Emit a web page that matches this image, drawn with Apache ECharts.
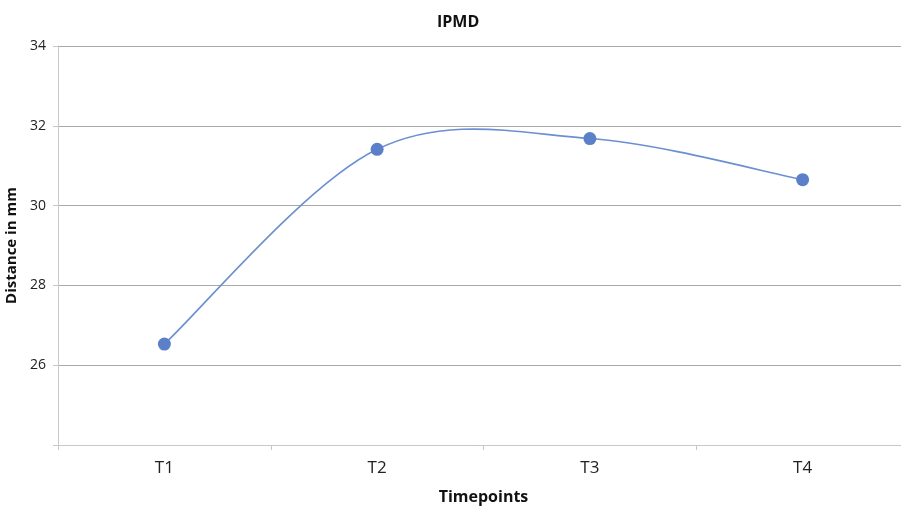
<!DOCTYPE html>
<html>
<head>
<meta charset="utf-8">
<title>IPMD</title>
<script src="https://cdn.jsdelivr.net/npm/echarts@6/dist/echarts.min.js"></script>
<style>
  html, body { margin: 0; padding: 0; background: #fff; }
  #chart { width: 901px; height: 508px; }
</style>
</head>
<body>
<div id="chart"></div>
<script>
// Timepoints on the x axis and mean IPMD distance (mm) at each
const categories = ['T1', 'T2', 'T3', 'T4'];
const distance = [26.53, 31.41, 31.68, 30.65];
const yTicks = [24, 26, 28, 30, 32, 34];

const FONT = '"Open Sans", "Noto Sans", sans-serif';
const LINE_COLOR = '#6b8fd2';

// Spreadsheet-style smoothed line: cubic Bezier segments whose control
// points follow the Catmull-Rom tangents (neighbour difference / 6).
function renderSmoothLine(params, api) {
  if (params.dataIndex !== 0) return null;
  const pts = distance.map((v, i) => api.coord([i, v]));
  const n = pts.length;
  const P = i => pts[Math.max(0, Math.min(n - 1, i))];
  let d = 'M' + pts[0][0] + ' ' + pts[0][1];
  for (let i = 0; i < n - 1; i++) {
    const p0 = P(i - 1), p1 = P(i), p2 = P(i + 1), p3 = P(i + 2);
    const c1 = [p1[0] + (p2[0] - p0[0]) / 6, p1[1] + (p2[1] - p0[1]) / 6];
    const c2 = [p2[0] - (p3[0] - p1[0]) / 6, p2[1] - (p3[1] - p1[1]) / 6];
    d += ' C' + c1[0] + ' ' + c1[1] + ' ' + c2[0] + ' ' + c2[1] + ' ' + p2[0] + ' ' + p2[1];
  }
  return {
    type: 'path',
    shape: { pathData: d },
    style: { fill: null, stroke: LINE_COLOR, lineWidth: 1.6 }
  };
}

const chart = echarts.init(document.getElementById('chart'), null, { renderer: 'canvas' });
chart.setOption({
  animation: false,
  backgroundColor: '#ffffff',
  title: {
    text: 'IPMD',
    left: 432,
    top: 9,
    textStyle: { fontFamily: FONT, fontSize: 16, fontWeight: 'bold', color: '#111' }
  },
  grid: { left: 58, right: -8, top: 46, bottom: 63, containLabel: false, outerBoundsMode: 'none' },
  xAxis: {
    type: 'category',
    data: categories,
    boundaryGap: true,
    name: 'Timepoints',
    nameLocation: 'middle',
    nameGap: 44,
    nameTextStyle: { fontFamily: FONT, fontSize: 16, fontWeight: 'bold', color: '#111' },
    axisLine: { lineStyle: { color: '#c8c8c8', width: 1 } },
    axisTick: { show: true, length: 5, lineStyle: { color: '#c8c8c8' } },
    axisLabel: { fontFamily: FONT, fontSize: 17, color: '#222', margin: 15 },
    splitLine: { show: false }
  },
  yAxis: {
    type: 'value',
    min: yTicks[0],
    max: yTicks[yTicks.length - 1],
    interval: 2,
    name: 'Distance in mm',
    nameLocation: 'middle',
    nameGap: 36,
    nameRotate: 90,
    nameTextStyle: { fontFamily: FONT, fontSize: 15, fontWeight: 'bold', color: '#111' },
    axisLine: { show: true, lineStyle: { color: '#c8c8c8', width: 1 } },
    axisTick: { show: true, length: 5, lineStyle: { color: '#c8c8c8' } },
    axisLabel: {
      fontFamily: FONT, fontSize: 14, color: '#222', margin: 12,
      formatter: v => (v === yTicks[0] ? '' : String(v))
    },
    splitLine: { show: true, lineStyle: { color: '#a8a8a8', width: 1 } }
  },
  series: [
    {
      type: 'custom',
      data: distance,
      renderItem: renderSmoothLine,
      clip: false,
      z: 2
    },
    {
      type: 'line',
      data: distance,
      symbol: 'circle',
      symbolSize: 13,
      lineStyle: { opacity: 0 },
      itemStyle: { color: '#5b7fc8' },
      z: 3
    }
  ]
});
</script>
</body>
</html>
